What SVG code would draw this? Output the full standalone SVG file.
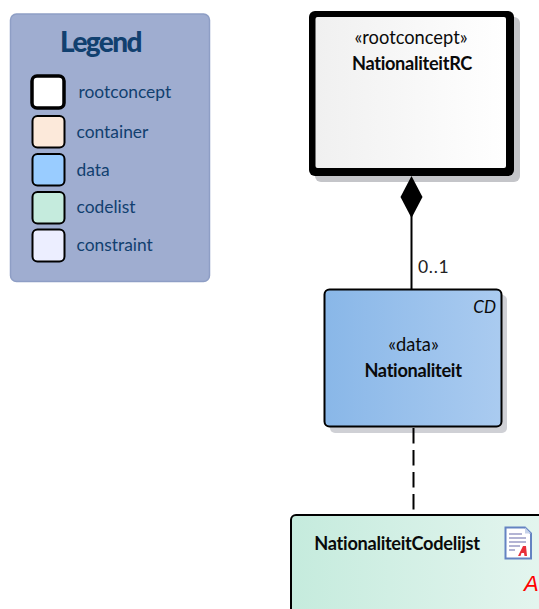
<svg xmlns="http://www.w3.org/2000/svg" width="539" height="609" viewBox="0 0 539 609">
<style>
text{font-family:"Lato","Carlito","Open Sans",sans-serif;fill:#0a0a0a}
.leg{font-size:17.400px;fill:#11406f}
.sw{stroke:#000;stroke-width:2}
.t{font-size:18.300px;text-anchor:middle}
.b{font-size:18.200px;font-weight:700;text-anchor:middle;letter-spacing:-.3px}
.sh{fill:#c4c5c9}
.c{fill:none;stroke:#000;stroke-width:2}
</style>
<defs>
<linearGradient id="gr"><stop offset="0" stop-color="#f0f0f0"/><stop offset="1" stop-color="#fff"/></linearGradient>
<linearGradient id="gd"><stop offset="0" stop-color="#89b7e8"/><stop offset="1" stop-color="#aacbf0"/></linearGradient>
<linearGradient id="gc"><stop offset="0" stop-color="#c5ebdd"/><stop offset="1" stop-color="#e6f6f0"/></linearGradient>
</defs>
<g id="legend">
<rect x="10.500" y="14" width="199" height="267.500" rx="6" fill="#9fadd0" stroke="#8e9ec5" stroke-width="1.500"/>
<text x="100.500" y="52" style="font-size:28px;font-weight:900;fill:#11406f;letter-spacing:-1.600px;text-anchor:middle">Legend</text>
<rect class="sw" x="32" y="76" width="32" height="32" rx="5" fill="#fff" style="stroke-width:3.500"/>
<text class="leg" x="78.500" y="98">rootconcept</text>
<rect class="sw" x="32.500" y="116" width="32" height="31.500" rx="5" fill="#fce9da"/>
<text class="leg" x="76.500" y="138">container</text>
<rect class="sw" x="32.500" y="154" width="32" height="31.500" rx="5" fill="#99ccff"/>
<text class="leg" x="76.500" y="176">data</text>
<rect class="sw" x="32.500" y="192" width="32" height="31.500" rx="5" fill="#c5ebdd"/>
<text class="leg" x="76.500" y="213">codelist</text>
<rect class="sw" x="32.500" y="229.500" width="32" height="32" rx="5" fill="#eceeff"/>
<text class="leg" x="76.500" y="251">constraint</text>
</g>
<g id="NationaliteitRC">
<rect class="sh" x="315" y="17" width="205" height="165" rx="6"/>
<rect x="309" y="11" width="205" height="165" rx="6" fill="#000"/>
<rect x="315.500" y="17" width="190.500" height="151" rx="2" fill="url(#gr)"/>
<text class="t" x="411" y="44">«rootconcept»</text>
<text class="b" x="412" y="70">NationaliteitRC</text>
</g>
<g id="Nationaliteit">
<rect class="sh" x="330" y="295" width="177" height="138" rx="5" style="fill:#cfd0d5"/>
<rect x="324.500" y="289.500" width="177" height="137" rx="5" fill="url(#gd)" stroke="#000" stroke-width="2"/>
<text x="496" y="313" style="font-size:17px;font-style:italic;text-anchor:end">CD</text>
<text class="t" x="413.500" y="351">«data»</text>
<text class="b" x="413" y="377">Nationaliteit</text>
</g>
<g id="NationaliteitCodelijst">
<rect x="291" y="515" width="270" height="120" rx="5" fill="url(#gc)" stroke="#000" stroke-width="2"/>
<text class="b" x="397" y="550">NationaliteitCodelijst</text>
<path d="M505.500 527.500H525L531 533.500V558.500H505.500Z" fill="#fff" stroke="#6483c2" stroke-width="2"/>
<path d="M525 527.500V533.500H531Z" fill="#c5d2ea"/>
<path d="M509 534H522M509 538H526M509 542H526M509 546H520M509 550H515" stroke="#9a9cc6" stroke-width="1.400" fill="none"/>
<path d="M518 556L523 546H526L527 556H524.500L524 553H521.500L520.500 556Z" fill="#e8303a"/>
<text x="524" y="591" style="font-family:'Liberation Sans',sans-serif;font-size:22px;font-style:italic;fill:#ff0000">A</text>
</g>
<g id="connectors">
<line class="c" x1="411.500" y1="210" x2="411.500" y2="289"/>
<path d="M411.500 176L422.500 197L411.500 218L400.500 197Z" fill="#000"/>
<text x="418" y="273" style="font-size:17.500px;letter-spacing:.7px;fill:#222">0..1</text>
<line class="c" x1="413.500" y1="428" x2="413.500" y2="510" stroke-dasharray="15.500 6.500"/>
</g>
</svg>
